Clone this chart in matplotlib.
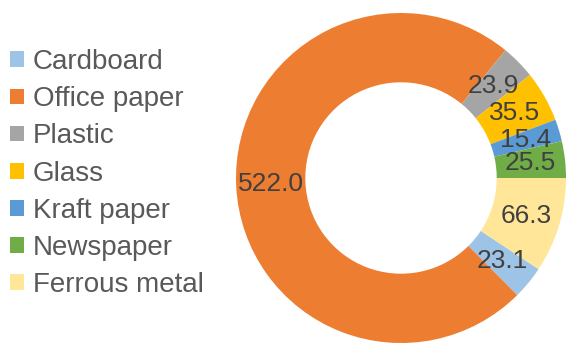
import matplotlib
matplotlib.use('Agg')
import matplotlib.pyplot as plt
from matplotlib.patches import Patch

plt.rcParams['font.family'] = ['Liberation Sans', 'DejaVu Sans']

# Du lieu
categories = ['Cardboard', 'Office paper', 'Plastic', 'Glass',
              'Kraft paper', 'Newspaper', 'Ferrous metal']
values = [23.1, 522.0, 23.9, 35.5, 15.4, 25.5, 66.3]
colors = ['#9DC3E6', '#ED7D31', '#A5A5A5', '#FFC000',
          '#5B9BD5', '#70AD47', '#FFE699']

total = sum(values)

fig = plt.figure(figsize=(5.68, 3.45), dpi=100)
ax = fig.add_axes([236 / 568, 2 / 345, 330 / 568, 330 / 345])

wedges, texts, autotexts = ax.pie(
    values, colors=colors, startangle=-33.54, counterclock=False,
    wedgeprops=dict(width=0.42, linewidth=0),
    autopct=lambda p: f'{p * total / 100:.1f}', pctdistance=0.79,
    textprops=dict(color='#404040', fontsize=19))
for w in wedges:
    w.set_clip_on(False)

ax.set_xlim(-1, 1)
ax.set_ylim(-1, 1)
ax.set_aspect('equal')
ax.axis('off')

handles = [Patch(facecolor=c, edgecolor='none') for c in colors]
leg = fig.legend(handles, categories, loc='center left',
                 bbox_to_anchor=(10 / 568, 0.497), frameon=False,
                 fontsize=20, handlelength=0.5, handleheight=0.5,
                 handletextpad=0.33, labelspacing=0.40,
                 borderpad=0, borderaxespad=0)
for t in leg.get_texts():
    t.set_color('#595959')

plt.savefig('out.png', dpi=100)
plt.close(fig)
